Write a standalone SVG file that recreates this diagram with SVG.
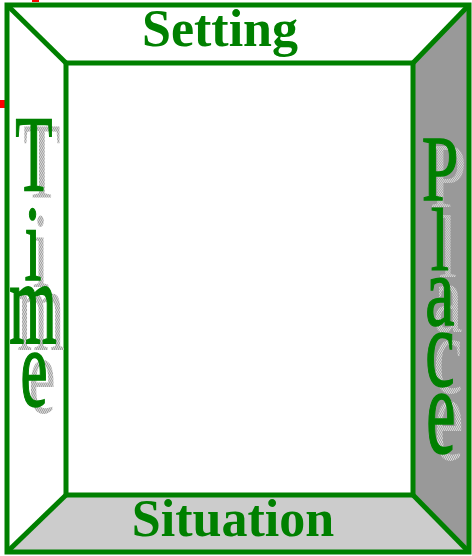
<svg xmlns="http://www.w3.org/2000/svg" width="472" height="556" viewBox="0 0 472 556">
<style>
.edge{stroke:#008000;stroke-width:5;fill:none;stroke-linejoin:miter}
.lbl{font-family:"Liberation Serif","Times New Roman",serif;fill:#008000;text-anchor:middle}
.b{font-weight:bold;font-size:52px}
.v{font-size:61px;stroke:#008000;stroke-width:0.9}
.p{font-size:66px;stroke:#008000;stroke-width:0.9}
.sh{fill:url(#dots);stroke:none}
</style>
<defs>
<pattern id="dots" width="2" height="2" patternUnits="userSpaceOnUse">
<rect width="2" height="2" fill="#d6d6d6"/>
<rect width="1" height="1" fill="#a4a4a4"/>
<rect x="1" y="1" width="1" height="1" fill="#a4a4a4"/>
</pattern>
</defs>
<rect x="0" y="0" width="472" height="556" fill="#ffffff"/>
<rect x="32" y="0" width="7" height="2" fill="#ff0000"/>
<rect x="0" y="100" width="5" height="8" fill="#ff0000"/>
<g id="panels">
<polygon points="469,5 469,552 413,495 413,63" fill="#999999"/>
<polygon points="7,552 469,552 413,495 66,495" fill="#cccccc"/>
</g>
<g id="connectors">
<rect class="edge" x="7" y="5" width="462" height="547"/>
<rect class="edge" x="66" y="63" width="347" height="432"/>
<line class="edge" x1="7" y1="5" x2="66" y2="63"/>
<line class="edge" x1="469" y1="5" x2="413" y2="63"/>
<line class="edge" x1="7" y1="552" x2="66" y2="495"/>
<line class="edge" x1="469" y1="552" x2="413" y2="495"/>
</g>
<g id="setting"><text class="lbl b" x="220" y="46">Setting</text></g>
<g id="situation"><text class="lbl b" x="233" y="536">Situation</text></g>
<g id="time">
<text class="lbl v sh" transform="translate(42,197) scale(1,1.78)">T</text>
<text class="lbl v sh" transform="translate(41,287) scale(1,1.78)">i</text>
<text class="lbl v sh" transform="translate(41,350) scale(1,1.95)">m</text>
<text class="lbl v sh" transform="translate(42,413) scale(1,1.85)">e</text>
<text class="lbl v" transform="translate(34,190) scale(1,1.78)">T</text>
<text class="lbl v" transform="translate(33,280) scale(1,1.78)">i</text>
<text class="lbl v" transform="translate(33,343) scale(1,1.95)">m</text>
<text class="lbl v" transform="translate(34,406) scale(1,1.85)">e</text>
</g>
<g id="place">
<text class="lbl p sh" transform="translate(448,207) scale(1,1.4)">P</text>
<text class="lbl p sh" transform="translate(448,277) scale(1,1.36)">l</text>
<text class="lbl p sh" transform="translate(448,332) scale(1,1.5)">a</text>
<text class="lbl p sh" transform="translate(448,393) scale(1,1.7)">c</text>
<text class="lbl p sh" transform="translate(449,460) scale(1,1.9)">e</text>
<text class="lbl p" transform="translate(440,200) scale(1,1.4)">P</text>
<text class="lbl p" transform="translate(440,270) scale(1,1.36)">l</text>
<text class="lbl p" transform="translate(440,325) scale(1,1.5)">a</text>
<text class="lbl p" transform="translate(440,386) scale(1,1.7)">c</text>
<text class="lbl p" transform="translate(441,453) scale(1,1.9)">e</text>
</g>
</svg>
